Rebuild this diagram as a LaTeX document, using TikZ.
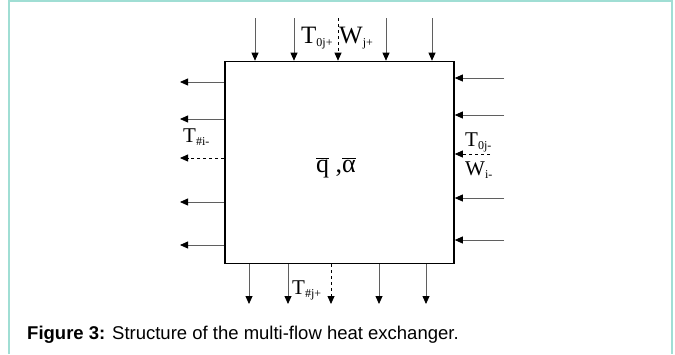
\documentclass[tikz,border=0pt]{standalone}
\usepackage{fontspec}
\setmainfont{Liberation Serif}
\newfontfamily\capfont{Liberation Sans}
\usetikzlibrary{arrows.meta}
\definecolor{framecol}{RGB}{160,222,212}
\definecolor{flowcol}{RGB}{95,95,95}
\newcommand{\sbs}[1]{\raisebox{-3pt}{\fontsize{12}{12}\selectfont #1}}
\begin{document}
\begin{tikzpicture}
[
  x=1pt, y=-1pt,
	frame/.style={draw=framecol,line width=1.6pt},
	hx/.style={draw,line width=1.6pt,minimum width=229pt,minimum height=202pt,inner sep=0pt},
	flow/.style={draw=flowcol,line width=0.8pt,-{Triangle[width=7pt,length=8pt,color=black]}},
	dflow/.style={flow,draw=black,dashed},
	lab/.style={font=\fontsize{21}{21}\selectfont,inner sep=0pt,anchor=base west},
	biglab/.style={lab,font=\fontsize{25}{25}\selectfont}
]
\useasboundingbox (0,0) rectangle (675,354);

\draw[frame] (9,354) -- (9,1) -- (672,1) -- (672,354);

\node[hx] (hx) at (339.5,162.5) {};

\node[lab,font=\fontsize{26}{26}\selectfont,anchor=base] (qa) at (336,172)
  {$\overline{\hbox{q}}$\ ,$\overline{\hbox{α}}$};


% top inlets
\coordinate (t1) at (255,18);
\coordinate (t2) at (294,18);
\coordinate (t3) at (338,18);
\coordinate (t4) at (386,18);
\coordinate (t5) at (432,18);

\draw[flow] (t1) -- (t1 |- hx.north);
\draw[flow] (t2) -- (t2 |- hx.north);
\draw[dflow] (t3) -- (t3 |- hx.north);
\draw[flow] (t4) -- (t4 |- hx.north);
\draw[flow] (t5) -- (t5 |- hx.north);

\node[biglab] (T0jp) at (301,43) {T\sbs{0j+}};
\node[biglab] (Wjp) at (339,43) {W\sbs{j+}};


% bottom outlets
\coordinate (b1) at (249,304);
\coordinate (b2) at (288,304);
\coordinate (b3) at (331,304);
\coordinate (b4) at (379,304);
\coordinate (b5) at (426,304);

\draw[flow] (b1 |- hx.south) -- (b1);
\draw[flow] (b2 |- hx.south) -- (b2);
\draw[dflow] (b3 |- hx.south) -- (b3);
\draw[flow] (b4 |- hx.south) -- (b4);
\draw[flow] (b5 |- hx.south) -- (b5);

\node[lab] (Tjp) at (292,294) {T\sbs{\#j+}};


% left outlets
\coordinate (l1) at (180,82);
\coordinate (l2) at (180,119);
\coordinate (l3) at (180,158);
\coordinate (l4) at (180,202);
\coordinate (l5) at (180,245);

\draw[flow] (l1 -| hx.west) -- (l1);
\draw[flow] (l2 -| hx.west) -- (l2);
\draw[dflow] (l3 -| hx.west) -- (l3);
\draw[flow] (l4 -| hx.west) -- (l4);
\draw[flow] (l5 -| hx.west) -- (l5);

\node[lab] (Tim) at (183,142) {T\sbs{\#i-}};


% right inlets
\coordinate (r1) at (504,78);
\coordinate (r2) at (504,115);
\coordinate (r3) at (490,154);
\coordinate (r4) at (504,198);
\coordinate (r5) at (504,240);

\draw[flow] (r1) -- (r1 -| hx.east);
\draw[flow] (r2) -- (r2 -| hx.east);
\draw[dflow] (r3) -- (r3 -| hx.east);
\draw[flow] (r4) -- (r4 -| hx.east);
\draw[flow] (r5) -- (r5 -| hx.east);

\node[lab] (T0jm) at (465,146) {T\sbs{0j-}};
\node[lab] (Wim) at (465,175) {W\sbs{i-}};


\node[anchor=base west,font=\capfont\fontsize{18.5}{18.5}\selectfont,inner sep=0pt] (cap) at (27,339)
  {\textbf{Figure 3:} Structure of the multi-flow heat exchanger.};

\end{tikzpicture}
\end{document}
